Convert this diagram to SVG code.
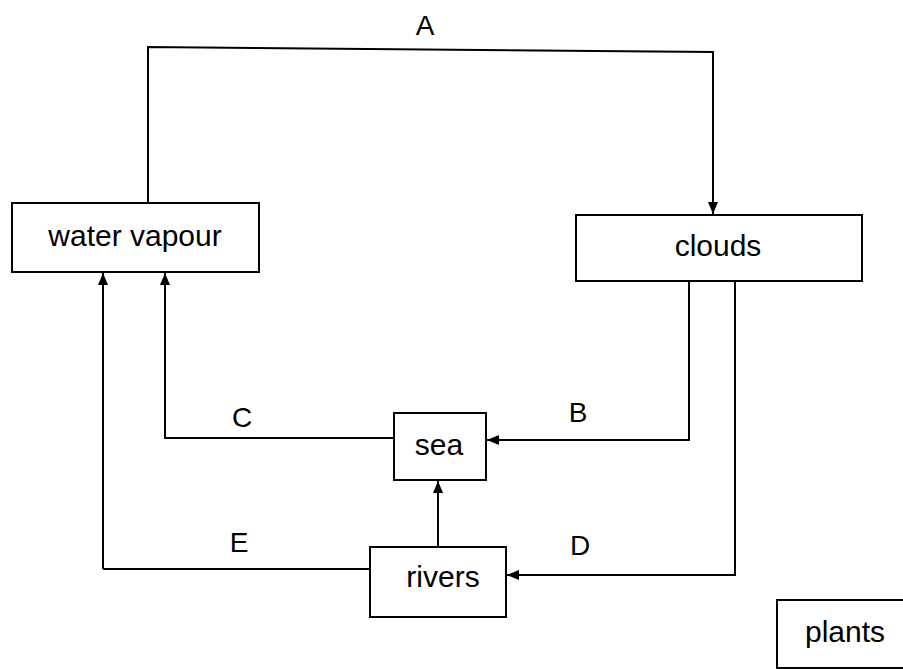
<svg xmlns="http://www.w3.org/2000/svg" width="903" height="669" viewBox="0 0 903 669">
<style>
.box{fill:#fff;stroke:#000;stroke-width:2}
.t{font-family:"Liberation Sans",Arial,sans-serif;font-size:30px;fill:#000;text-anchor:middle}
.l{font-family:"Liberation Sans",Arial,sans-serif;font-size:28px;fill:#000;text-anchor:middle}
.c{fill:none;stroke:#000;stroke-width:2}
</style>
<defs>
<marker id="ah" viewBox="0 0 12 10" refX="12" refY="5" markerWidth="12" markerHeight="10" markerUnits="userSpaceOnUse" orient="auto">
<path d="M0,0 L12,5 L0,10 z" fill="#000"/>
</marker>
</defs>
<rect width="903" height="669" fill="#fff"/>
<g id="connectors">
<path class="c" d="M148,203 V47 L713,52 V214" marker-end="url(#ah)"/>
<path class="c" d="M103,569 V273" marker-end="url(#ah)"/>
<path class="c" d="M394,438 H165 V273" marker-end="url(#ah)"/>
<path class="c" d="M370,569 H103"/>
<path class="c" d="M689,281 V440 H487" marker-end="url(#ah)"/>
<path class="c" d="M735,281 V575 H507" marker-end="url(#ah)"/>
<path class="c" d="M438,547 V481" marker-end="url(#ah)"/>
<text class="l" x="425" y="35">A</text>
<text class="l" x="578" y="422">B</text>
<text class="l" x="242" y="427">C</text>
<text class="l" x="580" y="555">D</text>
<text class="l" x="239" y="552">E</text>
</g>
<g id="water-vapour">
<rect class="box" x="12" y="203" width="247" height="69"/>
<text class="t" x="135" y="246">water vapour</text>
</g>
<g id="clouds">
<rect class="box" x="576" y="215" width="286" height="66"/>
<text class="t" x="718" y="256">clouds</text>
</g>
<g id="sea">
<rect class="box" x="394" y="413" width="92" height="67"/>
<text class="t" x="439" y="455">sea</text>
</g>
<g id="rivers">
<rect class="box" x="370" y="547" width="136" height="70"/>
<text class="t" x="443" y="587">rivers</text>
</g>
<g id="plants">
<rect class="box" x="777" y="600" width="140" height="68"/>
<text class="t" x="845" y="642">plants</text>
</g>
</svg>
